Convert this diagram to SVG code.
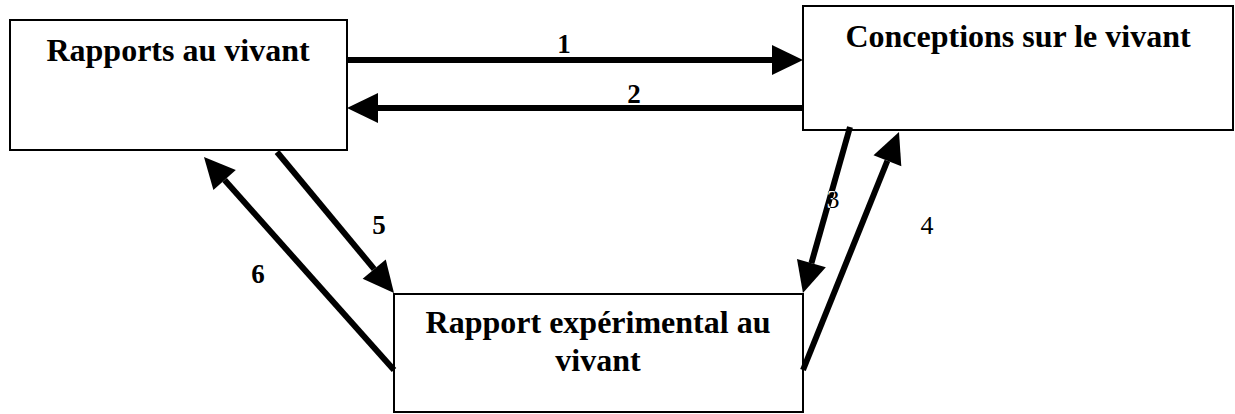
<svg xmlns="http://www.w3.org/2000/svg" width="1235" height="414" viewBox="0 0 1235 414">
  <style>
    .box { fill: #fff; stroke: #000; stroke-width: 2; }
    .title { font-family: "Liberation Serif", "Times New Roman", serif; font-size: 32px; font-weight: bold; fill: #000; text-anchor: middle; }
    .link { fill: none; stroke: #000; stroke-width: 6; marker-end: url(#head); }
    .num { font-family: "Liberation Serif", "Times New Roman", serif; font-size: 27px; font-weight: bold; fill: #000; text-anchor: middle; }
    .num-thin { font-family: "Liberation Serif", "Times New Roman", serif; font-size: 26px; fill: #000; text-anchor: middle; }
  </style>
  <defs>
    <marker id="head" markerUnits="userSpaceOnUse" markerWidth="32" markerHeight="32" viewBox="0 -16 32 32" refX="0" refY="0" orient="auto" overflow="visible">
      <path d="M0,-15 L31,0 L0,15 Z" fill="#000"/>
    </marker>
    <!-- band covered by connector 3, where its label is knocked out in white -->
    <clipPath id="link3-band">
      <polygon points="852.9,127.8 847.1,126.2 808.5,262.4 814.3,264"/>
    </clipPath>
  </defs>
  <rect x="0" y="0" width="1235" height="414" fill="#fff"/>

  <g id="node-rapports">
    <rect class="box" x="10" y="20" width="337" height="130"/>
    <text class="title" x="178" y="61">Rapports au vivant</text>
  </g>
  <g id="node-conceptions">
    <rect class="box" x="803" y="6" width="430" height="124"/>
    <text class="title" x="1018" y="47">Conceptions sur le vivant</text>
  </g>
  <g id="node-experimental">
    <rect class="box" x="394" y="294" width="409" height="118"/>
    <text class="title" x="598" y="333">Rapport expérimental au</text>
    <text class="title" x="598" y="371">vivant</text>
  </g>

  <g id="connectors">
    <path class="link" d="M347,60 L772,60"/>
    <path class="link" d="M803,108 L378,108"/>
    <path class="link" d="M850,127 L811.4,263.2"/>
    <path class="link" d="M803,370 L887.4,160.75"/>
    <path class="link" d="M277,152 L374.2,269.1"/>
    <path class="link" d="M394,370 L224.6,180.1"/>
  </g>

  <g id="labels">
    <text class="num" x="564" y="53">1</text>
    <text class="num" x="634" y="103">2</text>
    <text class="num-thin" x="833" y="208">3</text>
    <text class="num-thin" x="833" y="208" fill="#fff" clip-path="url(#link3-band)" style="fill:#fff">3</text>
    <text class="num-thin" x="927" y="234">4</text>
    <text class="num" x="379" y="234">5</text>
    <text class="num" x="258" y="283">6</text>
  </g>
</svg>
